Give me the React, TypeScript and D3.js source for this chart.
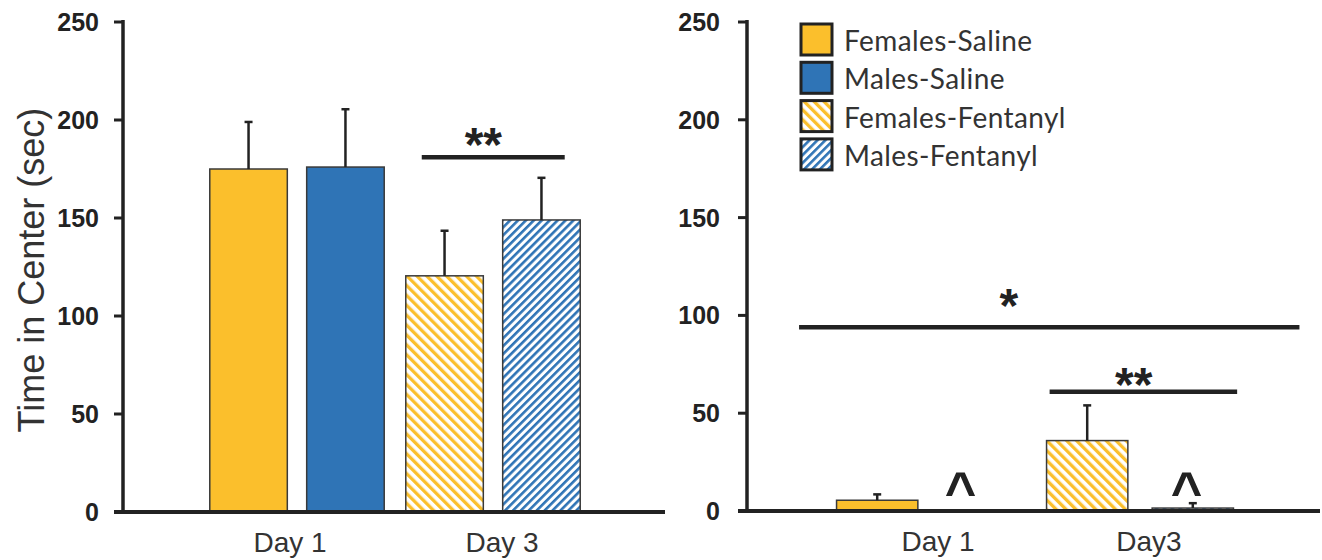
import React from 'react';
import * as d3 from 'd3';

// categories and series
const days = ['Day 1', 'Day 3'];
const rightDayLabels = ['Day 1', 'Day3'];
const seriesNames = ['Females-Saline', 'Males-Saline', 'Females-Fentanyl', 'Males-Fentanyl'];
const yTicks = [0, 50, 100, 150, 200, 250];

// left panel: [day][bar] means and SEM tops
const leftMeans = [[175, 176], [120.5, 149]];
const leftErrTop = [[199, 205.5], [143.5, 170.5]];
// right panel
const rightMeans = [[5.5, 0], [36, 1.5]];
const rightErrTop = [[8.5, 0], [54, 4]];

// which series each bar belongs to, per day
const barSeries = [[0, 1], [2, 3]];

// significance annotations (slot = bar index 0..3, fractional allowed)
const leftSig = [{ from: 1.77, to: 3.24, value: 181, label: '**', labelSlot: 2.4, labelValue: 193 }];
const rightSig = [
  { from: -0.74, to: 4.01, value: 94, label: '*', labelSlot: 1.25, labelValue: 110.5 },
  { from: 1.64, to: 3.42, value: 61, label: '**', labelSlot: 2.44, labelValue: 70 },
];
const rightCarets = [{ slot: 0.79, value: 18.5 }, { slot: 2.94, value: 18.5 }];

const YELLOW = '#FBBF2C';
const BLUE = '#2F74B6';
const fills = [YELLOW, BLUE, 'url(#hatchYellow)', 'url(#hatchBlue)'];

const W = 1322;
const H = 560;

type Sig = { from: number; to: number; value: number; label: string; labelSlot: number; labelValue: number };

const Panel = ({
  axisX, axisRight, y0, groupRange, innerPad, tickGap, means, errTop, sigs, carets = [], dayLabels, labelShift,
}: any) => {
  const y = d3.scaleLinear().domain([0, 250]).range([y0, 22]);
  const x0 = d3.scaleBand<string>().domain(days).range(groupRange).paddingInner(0.11).paddingOuter(0.055);
  const x1 = d3.scaleBand<number>().domain([0, 1]).range([0, x0.bandwidth()]).paddingInner(innerPad);
  const bw = x1.bandwidth();
  const centers: number[] = [];
  days.forEach((d) => [0, 1].forEach((j) => centers.push((x0(d) as number) + (x1(j) as number) + bw / 2)));
  const slot = d3.scaleLinear().domain([0, 1, 2, 3]).range(centers);

  return (
    <g>
      {/* bars */}
      {days.map((d, i) =>
        [0, 1].map((j) => {
          const v = means[i][j];
          const bx = (x0(d) as number) + (x1(j) as number);
          const s = barSeries[i][j];
          return (
            <g key={`${i}-${j}`}>
              {v > 0 && (
                <rect x={bx} y={y(v)} width={bw} height={y(0) - y(v)} fill={fills[s]} stroke="#3a3a3a" strokeWidth={1.5} />
              )}
              {errTop[i][j] > v && (
                <g stroke="#222" strokeWidth={2.5}>
                  <line x1={bx + bw / 2} x2={bx + bw / 2} y1={y(v)} y2={y(errTop[i][j])} />
                  <line x1={bx + bw / 2 - 4} x2={bx + bw / 2 + 4} y1={y(errTop[i][j])} y2={y(errTop[i][j])} />
                </g>
              )}
            </g>
          );
        })
      )}
      {/* axes */}
      <line x1={axisX} x2={axisX} y1={y(250) - 2} y2={y(0) + 2} stroke="#222" strokeWidth={3.5} />
      <line x1={axisX - 9} x2={axisRight} y1={y(0)} y2={y(0)} stroke="#222" strokeWidth={4} />
      {yTicks.map((t) => (
        <g key={t}>
          <line x1={axisX - 9} x2={axisX} y1={y(t)} y2={y(t)} stroke="#222" strokeWidth={3} />
          <text
            x={axisX - tickGap}
            y={y(t)}
            dy="0.36em"
            textAnchor="end"
            fontFamily="'Liberation Sans', Arial, sans-serif"
            fontWeight="bold"
            fontSize={25}
            fill="#222"
          >
            {t}
          </text>
        </g>
      ))}
      {days.map((d, i) => (
        <text
          key={d}
          x={(x0(d) as number) + x0.bandwidth() / 2 + labelShift[i]}
          y={y(0) + 40}
          textAnchor="middle"
          fontFamily="'Liberation Sans', Arial, sans-serif"
          fontSize={28}
          fill="#333"
        >
          {dayLabels[i]}
        </text>
      ))}
      {/* significance */}
      {sigs.map((s: Sig, k: number) => (
        <g key={k}>
          <line x1={slot(s.from)} x2={slot(s.to)} y1={y(s.value)} y2={y(s.value)} stroke="#222" strokeWidth={4.5} />
          <text
            x={slot(s.labelSlot)}
            y={y(s.labelValue) + 27}
            textAnchor="middle"
            fontFamily="'Liberation Sans', Arial, sans-serif"
            fontWeight="bold"
            fontSize={48}
            fill="#222"
          >
            {s.label}
          </text>
        </g>
      ))}
      {carets.map((c: any, k: number) => (
        <text
          key={k}
          x={slot(c.slot)}
          y={y(c.value) + 35}
          textAnchor="middle"
          fontFamily="'Liberation Sans', Arial, sans-serif"
          fontWeight="bold"
          fontSize={54}
          fill="#222"
        >
          ^
        </text>
      ))}
    </g>
  );
};

export default function App() {
  return (
    <svg width={W} height={H} style={{ display: 'block', position: 'absolute', left: 0, top: 0, background: '#fff' }}>
      <defs>
        <pattern id="hatchYellow" patternUnits="userSpaceOnUse" width={7} height={7} patternTransform="rotate(-45)">
          <rect width={7} height={7} fill="#fff" />
          <rect width={3.3} height={7} fill={YELLOW} />
        </pattern>
        <pattern id="hatchBlue" patternUnits="userSpaceOnUse" width={5.6} height={5.6} patternTransform="rotate(45)">
          <rect width={5.6} height={5.6} fill="#fff" />
          <rect width={2.6} height={5.6} fill={BLUE} />
        </pattern>
      </defs>
      <rect width={W} height={H} fill="#fff" />

      <text
        transform="translate(44,270) rotate(-90)"
        textAnchor="middle"
        fontFamily="'Liberation Sans', Arial, sans-serif"
        fontSize={36}
        fill="#333"
      >
        Time in Center (sec)
      </text>

      <Panel
        axisX={123}
        axisRight={665}
        y0={512}
        groupRange={[199, 591]}
        innerPad={0.2}
        tickGap={24}
        means={leftMeans}
        errTop={leftErrTop}
        sigs={leftSig}
        dayLabels={days}
        labelShift={[-7, 9]}
      />
      <Panel
        axisX={747}
        axisRight={1320}
        y0={511}
        groupRange={[825, 1245]}
        innerPad={0.23}
        tickGap={27}
        means={rightMeans}
        errTop={rightErrTop}
        sigs={rightSig}
        carets={rightCarets}
        dayLabels={rightDayLabels}
        labelShift={[8, 9]}
      />

      {/* legend */}
      {seriesNames.map((name, i) => (
        <g key={name} transform={`translate(801,${24 + i * 38.3})`}>
          <rect x={0} y={0} width={31} height={31} fill={fills[i]} stroke="#222" strokeWidth={3} />
          <text
            x={43}
            y={17}
            dy="0.36em"
            fontFamily="Lato, 'Open Sans', sans-serif"
            fontSize={28}
            letterSpacing={0.4}
            fill="#333"
          >
            {name}
          </text>
        </g>
      ))}
    </svg>
  );
}
